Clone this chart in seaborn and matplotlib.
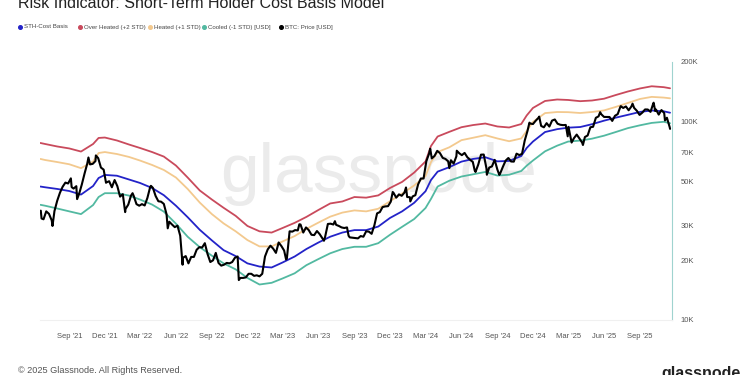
import numpy as np
import pandas as pd
import matplotlib
matplotlib.use("Agg")
import matplotlib.pyplot as plt
import matplotlib.dates as mdates
from matplotlib.ticker import FixedLocator, FixedFormatter, NullLocator
import seaborn as sns

sns.set_theme(style="white")
plt.rcParams['font.family'] = ['Liberation Sans', 'DejaVu Sans']

# ---------------- data (USD thousands) ----------------
band_dates = [
    "2021-06-19", "2021-07-01", "2021-08-01", "2021-09-01", "2021-10-01", "2021-11-01", "2021-11-15", "2021-12-01",
    "2022-01-01", "2022-02-01", "2022-03-01", "2022-04-01", "2022-05-01", "2022-06-01",
    "2022-07-01", "2022-08-01", "2022-09-01", "2022-10-01", "2022-11-01", "2022-12-01",
    "2023-01-01", "2023-02-01", "2023-03-01", "2023-04-01", "2023-05-01", "2023-06-01",
    "2023-07-01", "2023-08-01", "2023-09-01", "2023-10-01", "2023-11-01", "2023-12-01",
    "2024-01-01", "2024-02-01", "2024-03-01", "2024-03-15", "2024-04-01", "2024-05-01", "2024-06-01",
    "2024-07-01", "2024-08-01", "2024-09-01", "2024-10-01", "2024-11-01", "2024-11-15", "2024-12-01",
    "2025-01-01", "2025-02-01", "2025-03-01", "2025-04-01", "2025-05-01", "2025-06-01",
    "2025-07-01", "2025-08-01", "2025-09-01", "2025-10-01", "2025-11-01", "2025-11-17",
]
over_heated = [
    78.1, 77.2, 75.0, 73.3, 70.7, 77.2, 82.8, 83.2,
    80.4, 76.7, 73.7, 70.3, 66.7, 60.1, 52.3, 45.0, 40.5, 36.8, 33.5, 29.8,
    28.0, 27.6, 29.1, 30.9, 33.1, 35.9, 38.7, 39.6, 41.7, 41.4, 42.5, 46.3,
    49.7, 55.4, 63.0, 75.4, 84.2, 88.9, 93.8, 96.2, 97.9, 94.6, 93.5, 97.3, 107.5, 117.3,
    127.2, 129.4, 128.7, 126.9, 127.9, 130.6, 136.3, 142.0, 147.1, 150.9, 149.3, 147.4,
]
heated = [
    64.9, 64.1, 62.6, 61.0, 58.3, 63.0, 69.5, 70.3,
    68.7, 66.4, 63.7, 60.5, 57.1, 52.3, 45.8, 39.1, 34.2, 30.7, 28.0, 25.3,
    23.5, 23.5, 24.9, 26.5, 28.8, 31.0, 33.2, 34.8, 35.7, 35.3, 36.4, 39.7,
    43.4, 47.7, 53.2, 62.6, 70.3, 74.3, 80.7, 83.0, 85.5, 82.3, 79.7, 82.3, 89.8, 99.7,
    110.5, 111.9, 111.7, 110.6, 111.9, 114.0, 118.7, 124.3, 130.2, 133.4, 132.3, 131.2,
]
sth_cost_basis = [
    47.1, 46.7, 45.8, 44.7, 42.9, 47.4, 52.0, 53.9,
    53.4, 51.1, 49.1, 46.3, 42.6, 37.7, 33.0, 28.5, 25.2, 22.5, 21.0, 19.3,
    18.6, 18.4, 19.5, 20.9, 22.8, 24.6, 26.3, 27.6, 28.4, 28.4, 29.6, 32.7,
    35.3, 39.0, 44.6, 50.8, 56.0, 59.0, 62.9, 64.9, 66.2, 63.1, 63.4, 67.1, 73.7, 79.4,
    88.7, 91.7, 93.3, 94.0, 97.1, 101.2, 104.8, 108.3, 112.0, 113.9, 112.8, 111.0,
]
cooled = [
    38.1, 37.7, 36.5, 35.3, 34.2, 38.0, 41.7, 43.6,
    43.6, 42.4, 40.5, 38.2, 35.2, 30.6, 26.3, 23.3, 21.1, 19.3, 18.0, 16.3,
    15.1, 15.4, 16.2, 17.2, 18.9, 20.3, 21.7, 22.8, 23.4, 23.4, 24.4, 26.9,
    29.5, 32.3, 36.7, 40.8, 47.1, 50.4, 52.9, 54.3, 55.8, 53.5, 54.0, 56.4, 60.0, 63.7,
    70.9, 75.7, 79.4, 80.3, 82.1, 85.0, 88.7, 92.8, 95.9, 98.6, 99.9, 98.2,
]

# weekly BTC price (USD thousands), each year starts at the given date
price_2021_start = "2021-06-20"
price_2021 = [35.6, 32.2, 35.3, 34.3, 31.8, 35.4, 39.9, 43.8, 47.0, 49.3, 48.8, 51.8, 46.0, 47.3,
              43.2, 48.2, 54.7, 61.5, 60.9, 61.3, 63.3, 65.5, 58.7, 57.3, 49.4, 50.1, 46.7, 50.8]
price_2022_start = "2022-01-02"
price_2022 = [47.3, 41.9, 43.1, 36.3, 38.2, 42.4, 42.2, 38.4, 37.7, 38.4, 37.8, 41.3, 46.8, 46.4,
              42.2, 39.7, 39.5, 38.5, 34.1, 31.3, 30.3, 29.4, 29.9, 26.6, 20.6, 21.0, 19.3, 20.8,
              20.8, 22.6, 23.3, 23.2, 24.3, 21.5, 19.6, 20.0, 21.8, 19.4, 18.8, 19.0, 19.4, 19.3,
              19.6, 20.6, 20.9, 16.3, 16.3, 16.4, 17.1, 17.1, 16.7, 16.8]
price_2023_start = "2023-01-01"
price_2023 = [16.6, 17.1, 20.9, 22.7, 23.7, 22.9, 21.8, 24.6, 23.6, 22.4, 20.4, 28.0, 27.9, 28.4,
              28.3, 30.3, 27.6, 29.3, 28.4, 26.9, 26.8, 28.1, 27.1, 25.8, 26.3, 30.5, 30.6, 30.3,
              30.2, 29.8, 29.3, 29.1, 29.3, 26.1, 26.0, 25.9, 25.8, 26.5, 26.3, 28.0, 27.9, 27.2,
              30.0, 34.5, 35.0, 37.1, 37.4, 37.5, 39.5, 43.8, 41.4, 43.0, 42.3]
price_2024_start = "2024-01-07"
price_2024 = [43.9, 41.7, 41.6, 42.0, 42.6, 48.3, 51.7, 51.7, 63.1, 68.9, 65.3, 67.2, 71.3, 69.4,
              65.7, 64.9, 63.1, 63.9, 61.5, 66.9, 69.4, 67.8, 69.6, 66.2, 64.3, 62.7, 55.8, 60.8,
              68.2, 68.3, 58.1, 58.7, 59.5, 64.2, 57.3, 54.8, 59.2, 63.6, 65.6, 63.0, 62.9, 69.0,
              67.9, 68.8, 80.4, 89.8, 97.9, 97.3, 101.1, 104.5, 95.2, 93.7]
price_2025_start = "2025-01-05"
price_2025 = [98.3, 94.5, 101.3, 102.6, 97.7, 96.5, 96.1, 96.3, 94.2, 80.7, 82.6, 86.1, 82.3, 78.4,
              83.7, 85.2, 93.7, 94.3, 104.6, 106.4, 109.0, 105.7, 105.7, 105.6, 100.9, 107.1, 109.2,
              119.1, 117.3, 119.4, 114.2, 119.3, 117.4, 113.5, 108.2, 111.1, 115.3, 115.2, 112.1,
              123.5, 115.2, 108.6, 114.5, 110.6, 104.7, 94.0]
# mid-week swings visible in the daily line
price_swing_dates = [
    "2021-06-22", "2021-07-20", "2021-09-07", "2021-09-21", "2021-10-20", "2021-11-08", "2021-12-04",
    "2022-01-22", "2022-02-10", "2022-03-29", "2022-05-11", "2022-06-18", "2022-08-14", "2022-11-09",
    "2023-03-10", "2023-04-13", "2023-06-15", "2023-07-13", "2023-08-17", "2023-12-08",
    "2024-01-11", "2024-01-22", "2024-03-13", "2024-05-01", "2024-05-20", "2024-07-05", "2024-08-05",
    "2024-09-06", "2024-11-22", "2024-12-17", "2025-02-28", "2025-03-10", "2025-04-08", "2025-05-22",
    "2025-07-14", "2025-08-13", "2025-10-06", "2025-10-10", "2025-11-04",
]
price_swing_values = [
    32.5, 29.8, 46.8, 40.7, 66.0, 67.6, 49.2,
    35.0, 43.6, 47.5, 29.0, 19.0, 24.4, 15.9,
    20.2, 30.4, 25.1, 31.5, 26.6, 44.2,
    46.6, 39.6, 73.1, 58.3, 71.4, 56.7, 54.0,
    53.9, 98.9, 106.1, 84.4, 78.5, 76.3, 111.7,
    119.8, 123.3, 124.7, 113.2, 101.5,
]
price_last_date = "2025-11-17"
price_last = 92.0

y_ticks = [10, 20, 30, 50, 70, 100, 200]
y_tick_labels = ["10K", "20K", "30K", "50K", "70K", "100K", "200K"]
x_tick_dates = ["2021-09-01", "2021-12-01", "2022-03-01", "2022-06-01", "2022-09-01", "2022-12-01",
                "2023-03-01", "2023-06-01", "2023-09-01", "2023-12-01", "2024-03-01", "2024-06-01",
                "2024-09-01", "2024-12-01", "2025-03-01", "2025-06-01", "2025-09-01"]
x_tick_labels = ["Sep '21", "Dec '21", "Mar '22", "Jun '22", "Sep '22", "Dec '22", "Mar '23",
                 "Jun '23", "Sep '23", "Dec '23", "Mar '24", "Jun '24", "Sep '24", "Dec '24",
                 "Mar '25", "Jun '25", "Sep '25"]

# ---------------- frames ----------------
bands = pd.DataFrame({
    "date": pd.to_datetime(band_dates),
    "Over Heated (+2 STD)": np.array(over_heated) * 1000,
    "Heated (+1 STD)": np.array(heated) * 1000,
    "STH-Cost Basis": np.array(sth_cost_basis) * 1000,
    "Cooled (-1 STD) [USD]": np.array(cooled) * 1000,
})
parts = []
for start, vals in [(price_2021_start, price_2021), (price_2022_start, price_2022),
                    (price_2023_start, price_2023), (price_2024_start, price_2024),
                    (price_2025_start, price_2025)]:
    parts.append(pd.DataFrame({"date": pd.date_range(start, periods=len(vals), freq="7D"),
                               "price": np.array(vals) * 1000}))
parts.append(pd.DataFrame({"date": pd.to_datetime(price_swing_dates),
                           "price": np.array(price_swing_values) * 1000}))
parts.append(pd.DataFrame({"date": pd.to_datetime([price_last_date]), "price": [price_last * 1000]}))
price = (pd.concat(parts, ignore_index=True)
         .drop_duplicates(subset="date", keep="last")
         .sort_values("date").reset_index(drop=True))

colors = {
    "STH-Cost Basis": "#2323c8",
    "Over Heated (+2 STD)": "#c94a5c",
    "Heated (+1 STD)": "#f3c98e",
    "Cooled (-1 STD) [USD]": "#52b9a1",
    "BTC: Price [USD]": "#000000",
}

fig = plt.figure(figsize=(7.5, 3.75), dpi=100)

# watermark (behind the axes)
fig.text(0.505, 0.535, "glassnode", fontsize=50, color="#ebebeb", ha="center", va="center",
         zorder=0)

ax = fig.add_axes([40 / 750, 1 - 320 / 375, (672 - 40) / 750, (320 - 62) / 375])
ax.set_zorder(2)
ax.patch.set_alpha(0)

for name in ["Over Heated (+2 STD)", "Heated (+1 STD)", "Cooled (-1 STD) [USD]", "STH-Cost Basis"]:
    sns.lineplot(data=bands, x="date", y=name, ax=ax, color=colors[name], lw=1.3)
sns.lineplot(data=price, x="date", y="price", ax=ax, color="black", lw=1.5, sort=False)

ax.set_yscale("log")
ax.set_ylim(10000, 200000)
ax.set_xlim(pd.Timestamp("2021-06-18"), pd.Timestamp("2025-11-22"))

ax.yaxis.tick_right()
ax.yaxis.set_major_locator(FixedLocator([v * 1000 for v in y_ticks]))
ax.yaxis.set_major_formatter(FixedFormatter(y_tick_labels))
ax.yaxis.set_minor_locator(NullLocator())
ax.xaxis.set_major_locator(FixedLocator(mdates.date2num(pd.to_datetime(x_tick_dates))))
ax.xaxis.set_major_formatter(FixedFormatter(x_tick_labels))
ax.tick_params(axis="y", labelsize=5.5, labelcolor="#555555", length=0, pad=6)
ax.tick_params(axis="x", labelsize=5.5, labelcolor="#555555", length=2, color="#eeeeee", pad=7)
ax.set_xlabel("")
ax.set_ylabel("")
for s in ["top", "left"]:
    ax.spines[s].set_visible(False)
ax.spines["right"].set_color("#9fd3cf")
ax.spines["right"].set_linewidth(0.8)
ax.spines["bottom"].set_color("#f0f0f0")
ax.spines["bottom"].set_linewidth(0.8)
ax.grid(False)
if ax.get_legend():
    ax.get_legend().remove()

# title (top clipped as in the source screenshot)
fig.text(18 / 750, 1 - 8 / 375, "Risk Indicator: Short-Term Holder Cost Basis Model",
         fontsize=11.5, color="#222222", ha="left", va="baseline")

# legend row
legend_items = [("STH-Cost Basis", 19.5), ("Over Heated (+2 STD)", 79.5), ("Heated (+1 STD)", 150),
                ("Cooled (-1 STD) [USD]", 204), ("BTC: Price [USD]", 281)]
ly = 1 - 27 / 375
for name, xp in legend_items:
    fig.add_artist(plt.Line2D([xp / 750], [ly], marker="o", markersize=2.6, color=colors[name],
                              transform=fig.transFigure, lw=0))
    fig.text((xp + 4.0) / 750, ly, name, fontsize=4.4, color="#444444", ha="left", va="center")

# footer (bottom clipped as in the source screenshot)
fig.text(18 / 750, 1 - 373 / 375, "© 2025 Glassnode. All Rights Reserved.", fontsize=6.6,
         color="#555555", ha="left", va="baseline")
fig.text(741 / 750, 1 - 378 / 375, "glassnode", fontsize=11.5, color="#222222", ha="right",
         va="baseline", fontweight="bold")

fig.savefig("out.png", dpi=100)
